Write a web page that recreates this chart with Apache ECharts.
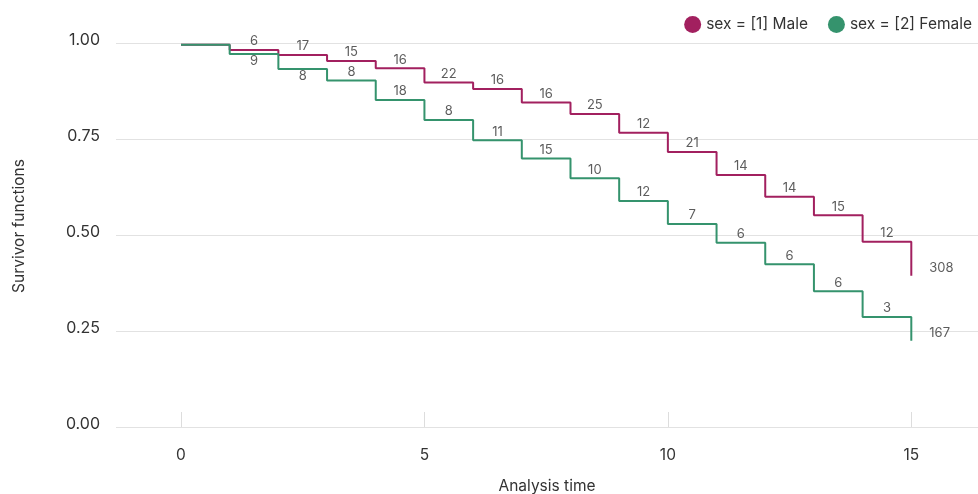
<!DOCTYPE html>
<html>
<head>
<meta charset="utf-8">
<script src="https://cdn.jsdelivr.net/npm/echarts@6/dist/echarts.min.js"></script>
<style>
html,body{margin:0;padding:0;background:#fff;}
#chart{width:978px;height:494px;}
</style>
</head>
<body>
<div id="chart"></div>
<script>
// Analysis time points (start of each step)
var times = [0, 1, 2, 3, 4, 5, 6, 7, 8, 9, 10, 11, 12, 13, 14, 15];
// Survivor function values on [t_i, t_i+1)
var maleSurv = [0.996, 0.9825, 0.9695, 0.954, 0.935, 0.898, 0.881, 0.846, 0.816, 0.767, 0.717, 0.657, 0.600, 0.552, 0.483, 0.394];
var femaleSurv = [0.996, 0.972, 0.933, 0.903, 0.852, 0.800, 0.747, 0.700, 0.648, 0.589, 0.529, 0.480, 0.424, 0.354, 0.287, 0.225];
// Counts shown over intervals [1,2] ... [14,15]
var maleCounts = [6, 17, 15, 16, 22, 16, 16, 25, 12, 21, 14, 14, 15, 12];
var femaleCounts = [9, 8, 8, 18, 8, 11, 15, 10, 12, 7, 6, 6, 6, 3];
// Counts shown at the end of each curve
var maleEnd = 308;
var femaleEnd = 167;
// Axis ticks
var xTicks = [0, 5, 10, 15];
var yTicks = [0, 0.25, 0.5, 0.75, 1];

var seriesNames = ['sex = [1] Male', 'sex = [2] Female'];
var maleColor = '#A2205F';
var femaleColor = '#35936D';
var font = 'Inter';

function pairs(xs, ys) { return xs.map(function (x, i) { return [x, ys[i]]; }); }

function countPoints(counts, surv, belowIdx) {
  return counts.map(function (c, k) {
    var i = k + 1;
    var below = belowIdx.indexOf(k) >= 0;
    return {
      value: [(times[i] + times[i + 1]) / 2, surv[i]],
      label: { position: below ? 'bottom' : 'top', distance: below ? 1 : 2, formatter: String(c) }
    };
  });
}

var last = times.length - 1;
var labelStyle = { show: true, color: '#333', fontSize: 13, fontFamily: font };

var chart = echarts.init(document.getElementById('chart'), null, { renderer: 'canvas' });
chart.setOption({
  animation: false,
  backgroundColor: '#fff',
  textStyle: { fontFamily: font },
  legend: {
    data: [
      { name: seriesNames[0], icon: 'circle', itemStyle: { color: maleColor } },
      { name: seriesNames[1], icon: 'circle', itemStyle: { color: femaleColor } }
    ],
    right: 1,
    top: 11,
    itemWidth: 17,
    itemHeight: 17,
    itemGap: 20,
    textStyle: { fontSize: 15.5, color: '#333', fontFamily: font }
  },
  grid: { left: 116, right: 0, top: 17, bottom: 59, containLabel: false, outerBoundsMode: 'none' },
  xAxis: {
    type: 'value',
    min: -1.335,
    max: 16.37,
    name: 'Analysis time',
    nameLocation: 'middle',
    nameGap: 43,
    nameTextStyle: { fontSize: 15.5, color: '#333', fontFamily: font },
    axisLine: { show: false },
    axisTick: { show: true, inside: true, length: 15, lineStyle: { color: '#ddd', width: 1 }, customValues: xTicks },
    axisLabel: { customValues: xTicks, fontSize: 15.5, color: '#333', margin: 12, fontFamily: font },
    splitLine: { show: false }
  },
  yAxis: {
    type: 'value',
    min: -0.0208,
    max: 1.0685,
    name: 'Survivor functions',
    nameLocation: 'middle',
    nameGap: 89,
    nameTextStyle: { fontSize: 15.5, color: '#333', fontFamily: font },
    axisLine: { show: false },
    axisTick: { show: false, customValues: yTicks },
    axisLabel: {
      customValues: yTicks, fontSize: 16, color: '#333', margin: 16, fontFamily: font,
      verticalAlign: 'bottom', lineHeight: 6,
      formatter: function (v) { return v.toFixed(2); }
    },
    splitLine: { show: true, lineStyle: { color: '#e2e2e2', width: 1 } }
  },
  series: [
    {
      name: seriesNames[0], type: 'line', step: 'end', symbol: 'none',
      data: pairs(times, maleSurv), color: maleColor,
      lineStyle: { color: maleColor, width: 2 }, z: 2
    },
    {
      name: seriesNames[1], type: 'line', step: 'end', symbol: 'none',
      data: pairs(times, femaleSurv), color: femaleColor,
      lineStyle: { color: femaleColor, width: 2 }, z: 3
    },
    {
      type: 'scatter', symbolSize: 0, silent: true, z: 4,
      label: labelStyle,
      data: countPoints(maleCounts, maleSurv, [])
    },
    {
      type: 'scatter', symbolSize: 0, silent: true, z: 4,
      label: labelStyle,
      data: countPoints(femaleCounts, femaleSurv, [0, 1])
    },
    {
      type: 'scatter', symbolSize: 0, silent: true, z: 4,
      label: { show: true, color: '#333', fontSize: 13, fontFamily: font, position: 'right', distance: 18, offset: [0, -8] },
      data: [
        { value: [times[last], maleSurv[last]], label: { formatter: String(maleEnd) } },
        { value: [times[last], femaleSurv[last]], label: { formatter: String(femaleEnd) } }
      ]
    }
  ]
});
</script>
</body>
</html>
